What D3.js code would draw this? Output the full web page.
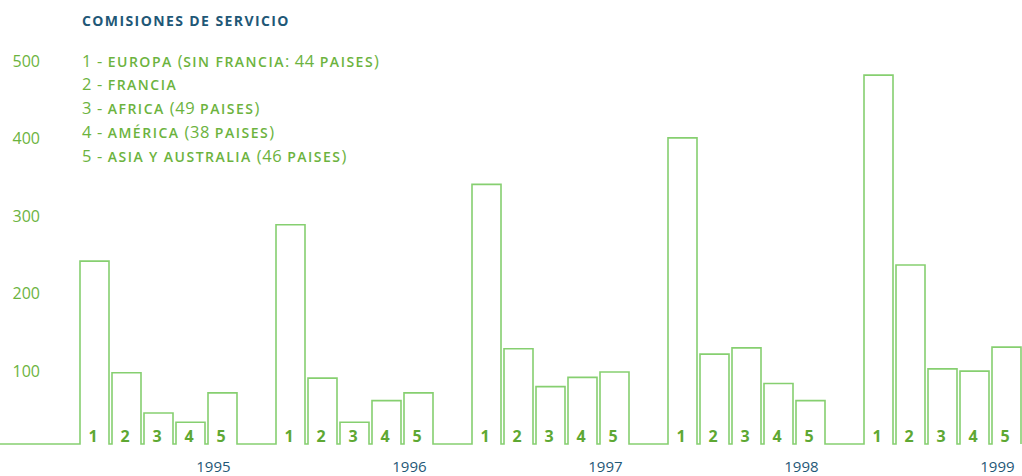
<!DOCTYPE html>
<html>
<head>
<meta charset="utf-8">
<script src="https://cdn.jsdelivr.net/npm/d3@7"></script>
<style>
	body { margin: 0; background: #fff; }
	text { font-family: "Open Sans", sans-serif; }
	.sc { text-transform: uppercase; }
</style>
</head>
<body>
<div id="chart"></div>
<script>
const width = 1022, height = 476;

// data
const years = ["1995", "1996", "1997", "1998", "1999"];
const regions = ["1", "2", "3", "4", "5"];
const values = [
	[236, 92, 40, 28, 66],
	[283, 85, 28, 56, 66],
	[335, 123, 74, 86, 93],
	[395, 116, 124, 78, 56],
	[476, 231, 97, 94, 125]
];
const yTicks = [100, 200, 300, 400, 500];
const legendLabels = [
	"1 - europa (sin francia: 44 paises)",
	"2 - francia",
	"3 - africa (49 paises)",
	"4 - américa (38 paises)",
	"5 - asia y australia (46 paises)"
];
const title = "COMISIONES DE SERVICIO";

const lineColor = "#86cf70", textColor = "#6cb33e", numColor = "#5ea833", blue = "#1f5877";

const svg = d3.select("#chart")
	.append("svg")
	.attr("width", width)
	.attr("height", height);

const y = d3.scaleLinear()
	.domain([0, 500])
	.range([444, 56.5]);

const x0 = d3.scaleBand()
	.domain(years)
	.range([80, 1021])
	.paddingInner(0.199);

const x1 = d3.scaleBand()
	.domain(regions)
	.range([0, x0.bandwidth()])
	.paddingInner(3 / 32);

// one outline path: baseline, then up and down round every bar
const path = d3.path();
path.moveTo(0, y(0));
years.forEach(function(yr, i){
	regions.forEach(function(r, j){
		let bx = x0(yr) + x1(r);
		path.lineTo(bx, y(0));
		path.lineTo(bx, y(values[i][j]));
		path.lineTo(bx + x1.bandwidth(), y(values[i][j]));
		path.lineTo(bx + x1.bandwidth(), y(0));
	});
});

svg.append("path")
	.attr("d", path.toString())
	.attr("fill", "none")
	.attr("stroke", lineColor)
	.attr("stroke-width", 1.6);

// bar numbers
years.forEach(function(yr){
	svg.selectAll(null)
		.data(regions)
		.enter()
		.append("text")
		.attr("x", (d) => x0(yr) + x1(d) + x1.bandwidth() / 2 - 1.5)
		.attr("y", y(0) - 2)
		.attr("text-anchor", "middle")
		.attr("font-size", 16)
		.attr("font-weight", "bold")
		.attr("fill", numColor)
		.text((d) => d);
});

// year labels
svg.selectAll(".year")
	.data(years)
	.enter()
	.append("text")
	.classed("year", true)
	.attr("x", (d) => x0(d) + x0.bandwidth() * 0.85)
	.attr("y", 471.5)
	.attr("text-anchor", "middle")
	.attr("font-size", 15)
	.attr("fill", blue)
	.text((d) => d);

// y axis labels
svg.selectAll(".tick")
	.data(yTicks)
	.enter()
	.append("text")
	.classed("tick", true)
	.attr("x", 40)
	.attr("y", (d) => y(d) + 10)
	.attr("text-anchor", "end")
	.attr("font-size", 16)
	.attr("fill", textColor)
	.text((d) => d);

// title and legend
svg.append("text")
	.attr("x", 82)
	.attr("y", 26)
	.attr("font-size", 14)
	.attr("font-weight", "bold")
	.attr("letter-spacing", 1.4)
	.attr("fill", blue)
	.text(title);

// small caps by hand: letters uppercase at a smaller size
const legend = svg.selectAll(".legend")
	.data(legendLabels)
	.enter()
	.append("text")
	.classed("legend", true)
	.attr("x", 82)
	.attr("y", (d, i) => 66.5 + i * 23.8)
	.attr("font-size", 16.5)
	.attr("fill", textColor);

legend.selectAll("tspan")
	.data((d) => d.match(/[a-zá-ú]+|[^a-zá-ú]+/g))
	.enter()
	.append("tspan")
	.attr("class", (d) => /[a-zá-ú]/.test(d) ? "sc" : null)
	.attr("font-size", (d) => /[a-zá-ú]/.test(d) ? 14 : null)
	.attr("font-weight", (d) => /[a-zá-ú]/.test(d) ? 600 : null)
	.attr("letter-spacing", (d) => /[a-zá-ú]/.test(d) ? 1.5 : 0.6)
	.text((d) => d);
</script>
</body>
</html>
